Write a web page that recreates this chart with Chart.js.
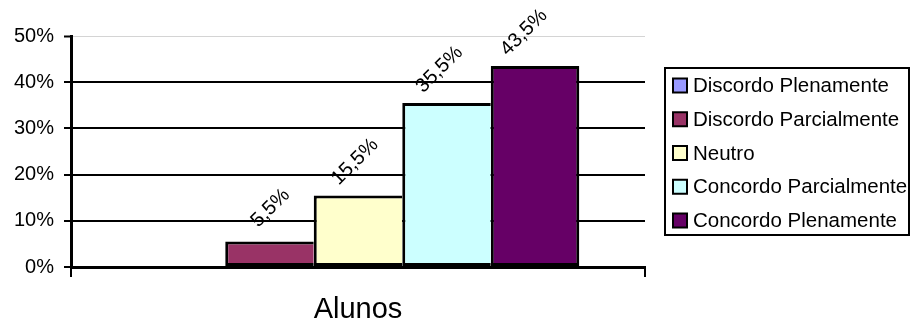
<!DOCTYPE html>
<html>
<head>
<meta charset="utf-8">
<script src="https://cdn.jsdelivr.net/npm/chart.js@4"></script>
<style>
  html, body { margin: 0; padding: 0; background: #fff; }
  #wrap { width: 910px; height: 322px; }
</style>
</head>
<body>
<div id="wrap"><canvas id="c" width="910" height="322"></canvas></div>
<script>
// Survey answers, one group ("Alunos"), five answer categories
const categories = ['Alunos'];
const seriesNames = ['Discordo Plenamente', 'Discordo Parcialmente', 'Neutro', 'Concordo Parcialmente', 'Concordo Plenamente'];
const seriesValues = [0, 5.5, 15.5, 35.5, 43.5];
const seriesColors = ['#9999FF', '#993366', '#FFFFCC', '#CCFFFF', '#660066'];
const yTicks = [0, 10, 20, 30, 40, 50];

const FONT = "'Liberation Sans', Arial, sans-serif";

// Neighbouring bars share one outline: each bar draws its left edge,
// only the last one also draws its right edge.
const datasets = seriesNames.map((name, i) => ({
  label: name,
  data: [seriesValues[i]],
  backgroundColor: seriesColors[i],
  borderColor: '#000',
  borderWidth: { left: 3, top: 3, bottom: 3, right: i === seriesNames.length - 1 ? 3 : 0 },
  borderSkipped: false
}));

// Rotated value labels above each bar (later series drift slightly left)
const valueLabels = {
  id: 'valueLabels',
  afterDatasetsDraw(chart) {
    const ctx = chart.ctx;
    ctx.save();
    ctx.font = '20px ' + FONT;
    ctx.fillStyle = '#000';
    ctx.textAlign = 'center';
    ctx.textBaseline = 'middle';
    chart.data.datasets.forEach((ds, i) => {
      chart.getDatasetMeta(i).data.forEach((bar, j) => {
        const v = ds.data[j];
        if (!v) return;
        const txt = v.toFixed(1).replace('.', ',') + '%';
        ctx.save();
        ctx.translate(bar.x + 5 - 4 * i, bar.y - 33.5);
        ctx.rotate(-Math.PI / 4);
        ctx.fillText(txt, 0, 0);
        ctx.restore();
      });
    });
    ctx.restore();
  }
};

// Boxed legend on the right
const boxLegend = {
  id: 'boxLegend',
  afterDraw(chart) {
    const ctx = chart.ctx;
    const left = chart.chartArea.right + 20;
    const top = 68, bottom = 235, right = 909;
    ctx.save();
    ctx.strokeStyle = '#000';
    ctx.lineWidth = 2;
    ctx.strokeRect(left, top, right - left, bottom - top);
    ctx.font = '20.5px ' + FONT;
    ctx.textBaseline = 'middle';
    ctx.textAlign = 'left';
    const step = 33.75;
    chart.data.datasets.forEach((ds, i) => {
      const cy = 85.5 + i * step;
      ctx.fillStyle = ds.backgroundColor;
      ctx.fillRect(left + 8, cy - 7, 14, 14);
      ctx.lineWidth = 2;
      ctx.strokeStyle = '#000';
      ctx.strokeRect(left + 8, cy - 7, 14, 14);
      ctx.fillStyle = '#000';
      ctx.fillText(ds.label, left + 28, cy + 1);
    });
    ctx.restore();
  }
};

new Chart(document.getElementById('c'), {
  type: 'bar',
  data: { labels: categories, datasets },
  options: {
    responsive: false,
    animation: false,
    devicePixelRatio: 1,
    layout: { padding: { top: 36, right: 265, bottom: 0, left: 0 } },
    datasets: { bar: { categoryPercentage: 0.771, barPercentage: 1 } },
    plugins: { legend: { display: false }, tooltip: { enabled: false } },
    scales: {
      x: {
        afterFit: s => { s.height = 55; },
        ticks: { color: '#000', font: { family: FONT, size: 29 }, padding: 16 },
        grid: { display: true, drawOnChartArea: false, drawTicks: true, tickLength: 10, color: '#000', lineWidth: 2, offset: true },
        border: { display: true, color: '#000', width: 3 }
      },
      y: {
        min: 0, max: 50,
        afterFit: s => { s.width = 71; },
        afterBuildTicks: s => { s.ticks = yTicks.map(v => ({ value: v })); },
        ticks: { color: '#000', font: { family: FONT, size: 20 }, padding: 10, callback: v => v + '%' },
        grid: {
          color: c => (c.tick && c.tick.value === 50) ? '#d4d4d4' : '#000',
          lineWidth: c => (c.tick && c.tick.value === 50) ? 1 : 2,
          tickColor: '#000',
          tickWidth: 2,
          tickLength: 7
        },
        border: { display: true, color: '#000', width: 3 }
      }
    }
  },
  plugins: [valueLabels, boxLegend]
});
</script>
</body>
</html>
